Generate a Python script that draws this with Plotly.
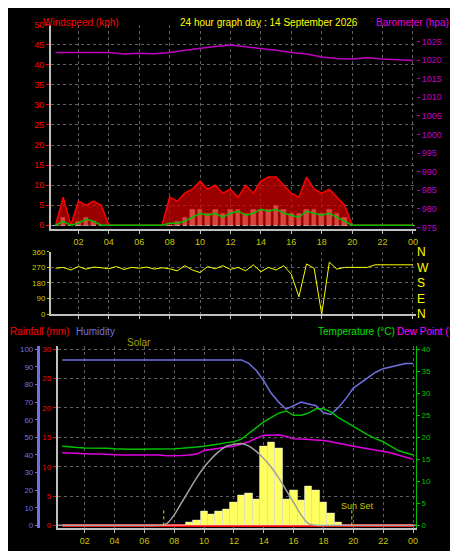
import plotly.graph_objects as go

# half-hour time stamps (hours)
hours = [i * 0.5 for i in range(1, 49)]
hour_ticks = [2, 4, 6, 8, 10, 12, 14, 16, 18, 20, 22, 24]
hour_labels = ["02", "04", "06", "08", "10", "12", "14", "16", "18", "20", "22", "00"]

wind_gust = [0, 7, 0, 6, 5, 6, 5, 0, 0, 0, 0, 0, 0, 0, 0, 7,
             6, 8, 9, 11, 9, 10, 8, 9, 7, 10, 8, 11, 12, 12, 10, 8,
             7, 12, 9, 8, 9, 7, 5, 0, 0, 0, 0, 0, 0, 0, 0, 0]
wind_avg = [0, 1, 0, 0.5, 1.5, 1, 0, 0, 0, 0, 0, 0, 0, 0, 0, 0.5,
            0.5, 1, 2, 3, 2.5, 3, 2, 3, 3.5, 2.5, 3, 4, 3.5, 4, 3, 2.5,
            2, 3.5, 3, 2.5, 3, 2, 1, 0, 0, 0, 0, 0, 0, 0, 0, 0]
wind_speed = [0, 2, 0, 1, 2, 1, 0, 0, 0, 0, 0, 0, 0, 0, 0, 0,
              1, 2, 4, 4, 3, 4, 3, 4, 4, 3, 4, 4, 4, 5, 4, 3,
              3, 4, 4, 3, 4, 3, 2, 0, 0, 0, 0, 0, 0, 0, 0, 0]

baro_hours = [0.5, 2, 3, 4, 5, 6, 7, 8, 9, 10, 11, 12, 13, 14, 15, 16, 17, 18, 19, 20, 21, 22, 23, 24]
barometer = [1022, 1022, 1022.2, 1022, 1021.6, 1021.8, 1021.7, 1022, 1022.6, 1023.2, 1023.6,
             1024, 1023.6, 1023, 1022.6, 1022, 1021.6, 1020.8, 1020.4, 1020.3, 1020.6, 1020.3, 1020, 1019.9]

wind_dir = [265, 270, 255, 275, 260, 272, 268, 262, 275, 258, 270, 265, 272, 260, 268, 262,
            250, 280, 255, 240, 275, 262, 280, 258, 270, 250, 285, 245, 270, 255, 280, 230,
            100, 290, 265, 0, 300, 260, 270, 270, 270, 270, 285, 285, 285, 285, 285, 285]

humidity = [94] * 25 + [92, 88, 82, 75, 70, 66, 68, 70, 69, 68, 64, 63, 67, 72, 78, 81,
                        84, 87, 89, 90, 91, 92, 92]
temperature = [18, 17.8, 17.7, 17.6, 17.6, 17.5, 17.5, 17.4, 17.3, 17.3, 17.3, 17.3, 17.3, 17.3,
               17.3, 17.4, 17.5, 17.6, 17.8, 18, 18.2, 18.5, 18.8, 19, 19.6, 21, 22.2, 23.5,
               24.5, 25.5, 26, 25, 25, 25.5, 26.5, 26.5, 25.8, 24.5, 23.5, 22.5, 21.5, 20.5,
               19.7, 19, 18, 17, 16.5, 16]
dew_point = [16.5, 16.4, 16.3, 16.3, 16.2, 16.2, 16.1, 16, 16, 16, 16, 16, 16, 16,
             15.8, 15.8, 15.9, 16, 16.2, 17, 17.2, 17.5, 17.8, 18, 18.5, 19, 19.8, 20.5,
             20.5, 20.6, 20.2, 19.7, 19.6, 19.5, 19.5, 19.3, 19, 18.6, 18.3, 18, 17.7, 17.3,
             17, 16.8, 16.5, 16, 15.5, 15]
solar = [0] * 17 + [2, 3, 8, 6, 8, 9, 13, 17, 18, 15, 45, 47, 44, 15, 20, 14, 22, 20, 13, 7, 2,
                    0, 0, 0, 0, 0, 0, 0, 0, 0, 0]
solar_max = [0] * 14 + [1, 6, 13, 20, 27, 33, 38, 42, 45, 46, 46.5, 45, 42, 38, 33, 27, 20, 13, 6,
                        1, 0, 0, 0, 0, 0, 0, 0, 0, 0, 0, 0, 0, 0, 0]
rainfall = [0] * 48

grid = dict(showgrid=True, gridcolor="#606060", griddash="dot", gridwidth=1)
xcommon = dict(range=[0.2, 24.2], tickvals=hour_ticks, ticktext=hour_labels,
               tickfont=dict(color="#c8c800", size=9), showline=True, linecolor="#c0c0c0",
               linewidth=2, ticks="outside", tickcolor="#c0c0c0", ticklen=3, zeroline=False, **grid)

fig = go.Figure()
fig.add_trace(go.Scatter(x=hours, y=wind_gust, mode="lines", fill="tozeroy", fillcolor="rgba(220,0,0,0.7)",
                         line=dict(color="red", width=1.5), xaxis="x", yaxis="y"))
fig.add_trace(go.Bar(x=hours, y=wind_speed, marker_color="#c8f0c8", width=0.3, yaxis="y", xaxis="x"))
fig.add_trace(go.Scatter(x=hours, y=wind_avg, mode="lines", line=dict(color="#00c000", width=1.5),
                         xaxis="x", yaxis="y"))
fig.add_trace(go.Scatter(x=baro_hours, y=barometer, mode="lines", line=dict(color="#c000c0", width=1.5),
                         xaxis="x", yaxis="y2"))
fig.add_trace(go.Scatter(x=hours, y=wind_dir, mode="lines", line=dict(color="yellow", width=1),
                         xaxis="x2", yaxis="y3"))
fig.add_trace(go.Scatter(x=[0], y=[-100], xaxis="x2", yaxis="y8"))
fig.add_trace(go.Bar(x=hours, y=solar, marker_color="#ffff60", width=0.5, xaxis="x3", yaxis="y7"))
fig.add_trace(go.Scatter(x=hours, y=solar_max, mode="lines", line=dict(color="#a0a0a0", width=1.5, shape="spline"),
                         xaxis="x3", yaxis="y7"))
fig.add_trace(go.Scatter(x=hours, y=humidity, mode="lines", line=dict(color="#7070e0", width=1.5),
                         xaxis="x3", yaxis="y4"))
fig.add_trace(go.Scatter(x=hours, y=temperature, mode="lines", line=dict(color="#00c000", width=1.5),
                         xaxis="x3", yaxis="y6"))
fig.add_trace(go.Scatter(x=hours, y=dew_point, mode="lines", line=dict(color="#e000e0", width=1.5),
                         xaxis="x3", yaxis="y6"))
fig.add_trace(go.Scatter(x=hours, y=rainfall, mode="lines", line=dict(color="red", width=3),
                         xaxis="x3", yaxis="y5"))

fig.update_layout(
    width=458, height=551, margin=dict(l=10, r=50, t=0, b=0),
    paper_bgcolor="black", plot_bgcolor="black", showlegend=False, bargap=0,
    font=dict(family="Liberation Sans", size=9),
    xaxis=dict(anchor="y", domain=[0.083, 1], **xcommon),
    xaxis2=dict(anchor="y3", domain=[0.083, 1], **{**xcommon, "showticklabels": False}),
    xaxis3=dict(anchor="y5", domain=[0.1, 1], **xcommon),
    yaxis=dict(domain=[0.601, 0.982], range=[-1, 50], tickvals=list(range(0, 51, 5)), anchor="x",
               tickfont=dict(color="red"), showline=True, linecolor="#c0c0c0", linewidth=2,
               ticks="outside", tickcolor="red", ticklen=3, zeroline=False, **grid),
    yaxis2=dict(overlaying="y", side="right", range=[974.5, 1029.5], tickvals=list(range(975, 1026, 5)),
                tickfont=dict(color="#c000c0"), showgrid=False, zeroline=False, anchor="x",
                ticks="outside", tickcolor="#c000c0", ticklen=3),
    yaxis3=dict(domain=[0.443, 0.559], range=[0, 360], tickvals=[0, 90, 180, 270, 360], anchor="x2",
                tickfont=dict(color="#c8c800", size=8), showline=True, linecolor="#c0c0c0", linewidth=2,
                ticks="outside", tickcolor="#c8c800", ticklen=2, zeroline=False, **grid),
    yaxis8=dict(overlaying="y3", side="right", range=[0, 360], tickvals=[0, 90, 180, 270, 360],
                ticktext=["N", "E", "S", "W", "N"], tickfont=dict(color="#ffff00", size=12),
                showgrid=False, zeroline=False, anchor="x2"),
    yaxis5=dict(domain=[0.044, 0.383], range=[-0.5, 30.5], tickvals=list(range(0, 31, 5)), anchor="x3",
                tickfont=dict(color="red", size=8), showline=True, linecolor="#c0c0c0", linewidth=2,
                ticks="outside", tickcolor="red", ticklen=3, zeroline=False, **grid),
    yaxis4=dict(overlaying="y5", range=[-1.7, 101.7], tickvals=list(range(0, 101, 10)), anchor="free",
                position=0.05, tickfont=dict(color="#7070e0", size=8), showline=True, linecolor="#7070e0",
                linewidth=3, ticks="outside", tickcolor="#7070e0", ticklen=2, showgrid=False, zeroline=False),
    yaxis6=dict(overlaying="y5", side="right", range=[-0.68, 40.68], tickvals=list(range(0, 41, 5)),
                anchor="x3", tickfont=dict(color="#00c000", size=8), showline=True, linecolor="#00c000",
                ticks="outside", tickcolor="#00c000", ticklen=3, showgrid=False, zeroline=False),
    yaxis7=dict(overlaying="y5", range=[-1.7, 101.7], visible=False),
)

ann = [
    ("Windspeed (kph)", 0.058, 1.0, "red"),
    ("24 hour graph day : 14 September 2026", 0.402, 1.0, "yellow"),
    ("Barometer (hpa)", 0.894, 1.0, "#e000e0"),
    ("Rainfall (mm)", -0.025, 0.425, "red"),
    ("Humidity", 0.14, 0.425, "#7070e0"),
    ("Solar", 0.27, 0.405, "#a0a000"),
    ("Temperature (°C)", 0.749, 0.425, "#00e000"),
    ("Dew Point (°C)", 0.947, 0.425, "#ff00ff"),
]
for text, x, y, col in ann:
    fig.add_annotation(text=text, x=x, y=y, xref="paper", yref="paper", xanchor="left", yanchor="top",
                       showarrow=False, font=dict(color=col, size=10))
fig.add_annotation(text="Sun Set", x=20.3, y=4.5, xref="x3", yref="y6", showarrow=False,
                   font=dict(color="#c8c800", size=9))
for sx in [7.3, 19.9]:
    fig.add_shape(type="line", x0=sx, x1=sx, y0=0, y1=9, xref="x3", yref="y4",
                  line=dict(color="#e0e000", width=1, dash="dot"))

fig.write_html("out.html")
